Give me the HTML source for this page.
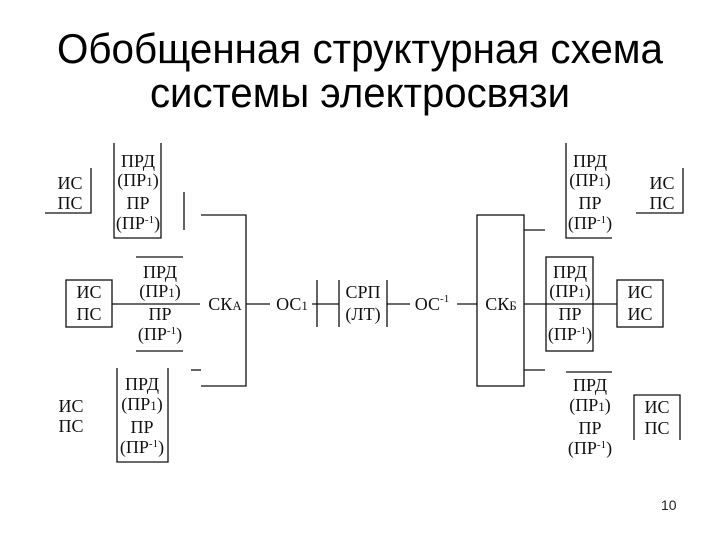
<!DOCTYPE html>
<html><head><meta charset="utf-8"><style>
html,body{margin:0;padding:0;background:#fff;width:720px;height:540px;overflow:hidden}
svg{display:block}
.t{font-family:"Liberation Serif",serif;font-size:18px;fill:#111}
.h{font-family:"Liberation Sans",sans-serif;font-size:42px;fill:#000}
</style></head><body>
<svg width="720" height="540" viewBox="0 0 720 540">
<text class="h" x="57" y="63" textLength="606" lengthAdjust="spacingAndGlyphs">Обобщенная структурная схема</text>
<text class="h" x="150" y="107" textLength="420" lengthAdjust="spacingAndGlyphs">системы электросвязи</text>
<text x="661" y="510" font-family="Liberation Sans,sans-serif" font-size="14" fill="#222">10</text>
<g stroke="#111" stroke-width="1.3" fill="none">
<!-- top left -->
<path d="M91 168V213H45"/>
<path d="M114 143V238H161V143"/>
<path d="M184 192V230"/>
<path d="M201 215H246V386H201"/>
<path d="M191 370H201"/>
<!-- middle left -->
<rect x="66" y="280" width="46" height="47"/>
<path d="M112 304H200M136 257H183M136 351H183"/>
<path d="M246 304H270M312 304H339M317 280V327"/>
<path d="M339 280V327M387 280V327M387 304H410M457 304H477"/>
<!-- bottom left -->
<path d="M117 368V462H168V368"/>
<!-- right -->
<rect x="477" y="215" width="47" height="171"/>
<path d="M524 304H617M524 230H545M524 370H545"/>
<rect x="546" y="257" width="47" height="94"/>
<rect x="617" y="280" width="46" height="47"/>
<path d="M566 143V238H612"/>
<path d="M683 168V213H636"/>
<path d="M566 372H612"/>
<path d="M634 440V395H680V440"/>
</g>
<g class="t" text-anchor="middle">
<text x="70" y="189">ИС</text><text x="70" y="209">ПС</text>
<text x="138" y="167">ПРД</text><text x="138" y="186">(ПР<tspan font-size="13">1</tspan>)</text><text x="138" y="209">ПР</text><text x="138" y="229">(ПР<tspan font-size="11" dy="-6">-1</tspan><tspan dy="6">)</tspan></text>
<text x="89" y="298">ИС</text><text x="89" y="320">ПС</text>
<text x="160" y="278">ПРД</text><text x="160" y="297">(ПР<tspan font-size="13">1</tspan>)</text><text x="160" y="320">ПР</text><text x="160" y="340">(ПР<tspan font-size="11" dy="-6">-1</tspan><tspan dy="6">)</tspan></text>
<text x="225" y="310">СК<tspan font-size="13">А</tspan></text>
<text x="292" y="310">ОС<tspan font-size="13">1</tspan></text>
<text x="363" y="298">СРП</text><text x="363" y="320">(ЛТ)</text>
<text x="432" y="310">ОС<tspan font-size="11" dy="-8">-1</tspan></text>
<text x="501" y="310">СК<tspan font-size="13">Б</tspan></text>
<text x="71" y="412">ИС</text><text x="71" y="432">ПС</text>
<text x="142" y="390">ПРД</text><text x="142" y="410">(ПР<tspan font-size="13">1</tspan>)</text><text x="142" y="433">ПР</text><text x="142" y="453">(ПР<tspan font-size="11" dy="-6">-1</tspan><tspan dy="6">)</tspan></text>
<text x="590" y="167">ПРД</text><text x="590" y="186">(ПР<tspan font-size="13">1</tspan>)</text><text x="590" y="209">ПР</text><text x="590" y="229">(ПР<tspan font-size="11" dy="-6">-1</tspan><tspan dy="6">)</tspan></text>
<text x="662" y="189">ИС</text><text x="662" y="209">ПС</text>
<text x="570" y="278">ПРД</text><text x="570" y="297">(ПР<tspan font-size="13">1</tspan>)</text><text x="570" y="320">ПР</text><text x="570" y="340">(ПР<tspan font-size="11" dy="-6">-1</tspan><tspan dy="6">)</tspan></text>
<text x="640" y="298">ИС</text><text x="640" y="320">ИС</text>
<text x="590" y="391">ПРД</text><text x="590" y="411">(ПР<tspan font-size="13">1</tspan>)</text><text x="590" y="434">ПР</text><text x="590" y="454">(ПР<tspan font-size="11" dy="-6">-1</tspan><tspan dy="6">)</tspan></text>
<text x="657" y="413">ИС</text><text x="657" y="434">ПС</text>
</g>
</svg>
</body></html>
